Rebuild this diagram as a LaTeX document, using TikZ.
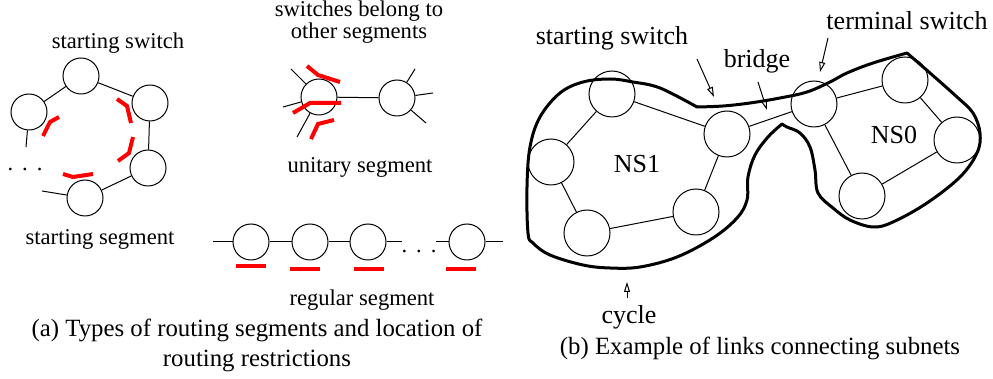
\documentclass[tikz,border=0pt]{standalone}
\usepackage{fontspec}
\setmainfont{Liberation Serif}
\usetikzlibrary{arrows.meta}

\begin{document}
\begin{tikzpicture}[x=0.5pt, y=-0.5pt,
  sw/.style={circle, draw, line width=0.5pt, minimum size=18pt, inner sep=0pt},
  bigsw/.style={circle, draw, line width=0.5pt, minimum size=23pt, inner sep=0pt},
  lnk/.style={line width=0.5pt},
  restr/.style={red, line width=2pt},
  outline/.style={line width=1.5pt, line join=round, line cap=round},
  pointer/.style={line width=0.5pt, -{Triangle[open, length=5pt, width=3pt]}},
  small/.style={font=\fontsize{11.3}{10.8}\selectfont, align=center},
  big/.style={font=\fontsize{13}{15}\selectfont},
  capt/.style={font=\fontsize{12.4}{15}\selectfont, align=center}]
\useasboundingbox (0,0) rectangle (993,379);

\node[sw] (s1) at (81,76) {};
\node[sw] (s2) at (29,112) {};
\node[sw] (s3) at (150,103) {};
\node[sw] (s4) at (148,168) {};
\node[sw] (s5) at (85,198) {};
\coordinate (s2end) at (26,147);
\coordinate (s5end) at (42,191);
\draw [lnk] (s2) -- (s1) -- (s3) -- (s4) -- (s5);
\draw [lnk] (s2) -- (s2end);
\draw [lnk] (s5) -- (s5end);
\node [small] (dotsa) at (25,169) {.\hspace{4.5pt}.\hspace{4.5pt}.};
\draw [restr] (43,136) -- (50,122) -- (59,117);
\draw [restr] (117,99) -- (127,106) -- (131,123);
\draw [restr] (133,137) -- (129,153) -- (118,161);
\draw [restr] (63,174) -- (73,177) -- (93,174);
\node [small] (startsw) at (118,43) {starting switch};
\node [small] (startseg) at (100,239) {starting segment};

\node[sw] (u1) at (319,97) {};
\node[sw] (u2) at (397,98) {};
\draw [lnk] (u1) -- (u2);
\foreach \p in {(291,69), (283,107), (297,137)}
  \draw [lnk] (u1) -- \p;
\foreach \p in {(415,69), (433,93), (426,123)}
  \draw [lnk] (u2) -- \p;
\draw [restr] (307,66) -- (318,75) -- (340,82);
\draw [restr] (293,113) -- (310,103) -- (341,103);
\draw [restr] (311,139) -- (318,124) -- (334,120);
\node [small] (other) at (359,22) {switches belong to\\other segments};
\node [small] (unitary) at (360,167) {unitary segment};

\node[sw] (r1) at (251,242) {};
\node[sw] (r2) at (310,242) {};
\node[sw] (r3) at (368,242) {};
\node[sw] (r4) at (467,242) {};
\coordinate (rl) at (213,242);
\coordinate (rm1) at (402,242);
\coordinate (rm2) at (436,242);
\coordinate (rr) at (503,242);
\draw [lnk] (rl) -- (r1) -- (r2) -- (r3) -- (rm1);
\draw [lnk] (rm2) -- (r4) -- (rr);
\node [small] (dotsb) at (419,251) {.\hspace{4.5pt}.\hspace{4.5pt}.};
\draw [restr] (236,266) -- (266,266);
\draw [restr] (290,269) -- (320,269);
\draw [restr] (354,269) -- (384,269);
\draw [restr] (446,269) -- (476,269);
\node [small] (regular) at (362,300) {regular segment};

\node [capt] (capa) at (257,345) {(a) Types of routing segments and location of\\routing restrictions};

\node[bigsw] (n1a) at (612,94) {};
\node[bigsw] (n1b) at (551,162) {};
\node[bigsw] (n1c) at (587,233) {};
\node[bigsw] (n1d) at (696,212) {};
\node[bigsw] (n1e) at (727,134) {};
\node[bigsw] (n0a) at (814,104) {};
\node[bigsw] (n0b) at (905,80) {};
\node[bigsw] (n0c) at (957,140) {};
\node[bigsw] (n0d) at (862,196) {};
\draw [lnk] (n1a) -- (n1b) -- (n1c) -- (n1d) -- (n1e) -- (n1a);
\draw [lnk] (n1e) -- (n0a);
\draw [lnk] (n0a) -- (n0b) -- (n0c) -- (n0d) -- (n0a);
\node [big] (ns1) at (637,164) {NS1};
\node [big] (ns0) at (894,135) {NS0};

\draw [outline] plot [smooth, tension=0.6] coordinates {(697,107) (660,88) (633,82) (610,79)
  (583,82) (560,93) (540,117) (530,147) (527,187) (528,233) (533,243) (550,255) (583,265)
  (610,268) (640,267) (677,257) (713,238) (737,218) (747,200) (748,177) (755,155) (768,137) (782,124)};
\draw [outline] plot [smooth, tension=0.6] coordinates {(782,124) (787,127) (800,133) (810,147)
  (815,170) (818,193) (833,208) (850,220) (873,227) (893,222) (927,203) (960,177) (977,153)
  (980,133) (973,113) (957,97) (930,73) (907,53)};
\draw [outline] plot [smooth, tension=0.6] coordinates {(907,53) (873,63) (847,73) (830,82)
  (807,92) (780,98) (750,103) (723,106) (697,107)};

\coordinate (ssa) at (697,59);
\coordinate (ssb) at (714,97);
\coordinate (bra) at (758,82);
\coordinate (brb) at (767,110);
\coordinate (tsa) at (828,38);
\coordinate (tsb) at (820,72);
\coordinate (cya) at (627,298);
\coordinate (cyb) at (627,282);
\draw [pointer] (ssa) -- (ssb);
\draw [pointer] (bra) -- (brb);
\draw [pointer] (tsa) -- (tsb);
\draw [pointer] (cya) -- (cyb);
\node [big] (startsw2) at (612,38) {starting switch};
\node [big] (bridge) at (757,61) {bridge};
\node [big] (termsw) at (907,21) {terminal switch};
\node [big] (cycle) at (629,317) {cycle};

\node [capt] (capb) at (760,348) {(b) Example of links connecting subnets};

\end{tikzpicture}
\end{document}
